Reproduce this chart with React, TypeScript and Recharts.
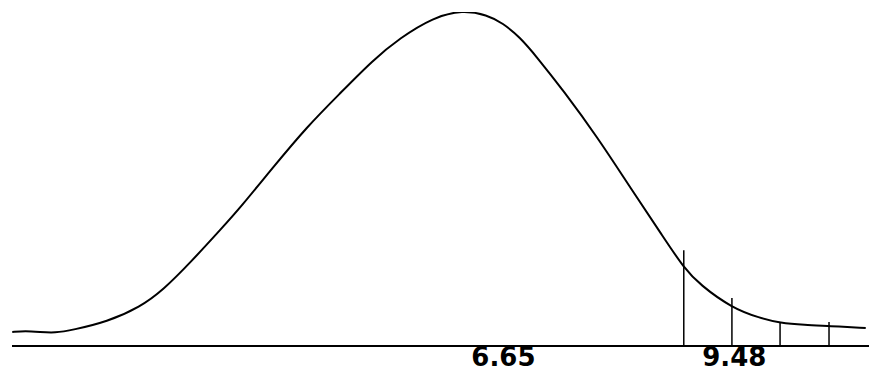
import { ComposedChart, Line, XAxis, YAxis, ReferenceLine } from "recharts";

// curve: x in label units, y as % of peak height
const curveX = [
  0.63, 0.79, 0.97, 1.15, 1.37, 1.79, 2.2, 2.48, 2.81, 3.21, 3.42, 3.83, 4.24, 4.65, 5.05, 5.38,
  5.79, 6.15, 6.45, 6.64, 6.85, 7.06, 7.38, 7.8, 8.2, 8.61, 8.86, 9.06, 9.45, 9.79, 10.04, 10.34,
  10.64, 11.09,
];
const curveY = [
  4.2, 4.5, 4.2, 3.9, 4.8, 7.2, 11.7, 16.8, 24.9, 35.6, 41.3, 53.6, 65.6, 75.7, 85.6, 92.2,
  98.4, 100.6, 99.1, 96.7, 92.5, 86.5, 76.6, 62.6, 47.6, 32.6, 23.4, 18.3, 11.4, 8.4, 6.9, 6.3,
  6.0, 5.4,
];

// vertical markers under the right tail
const markerX = [8.86, 9.45, 10.04, 10.64];
const markerTop = [28.7, 14.4, 7.2, 7.2];

const tickValues = [6.65, 9.48];

const data = curveX.map((x, i) => ({ x, y: curveY[i] }));

export default function App() {
  return (
    <div style={{ position: "absolute", left: 0, top: 0, background: "#fff" }}>
      <ComposedChart width={869} height={375} data={data} margin={{ top: 12, right: 0, bottom: 1, left: 12 }}>
        <XAxis
          dataKey="x"
          type="number"
          domain={[0.627, 11.13]}
          ticks={tickValues}
          tickFormatter={(v: number) => v.toFixed(2)}
          axisLine={{ stroke: "#000", strokeWidth: 2 }}
          tickLine={false}
          tickSize={0}
          tickMargin={2}
          height={28}
          interval={0}
          tick={{ fill: "#000", fontSize: 26, fontWeight: "bold", fontFamily: "DejaVu Sans" }}
        />
        <YAxis hide domain={[0, 100]} allowDataOverflow />
        {markerX.map((mx, i) => (
          <ReferenceLine
            key={mx}
            segment={[
              { x: mx, y: 0 },
              { x: mx, y: markerTop[i] },
            ]}
            stroke="#000"
            strokeWidth={1.5}
          />
        ))}
        <Line
          type="basis"
          dataKey="y"
          stroke="#000"
          strokeWidth={2}
          dot={false}
          isAnimationActive={false}
        />
      </ComposedChart>
    </div>
  );
}
